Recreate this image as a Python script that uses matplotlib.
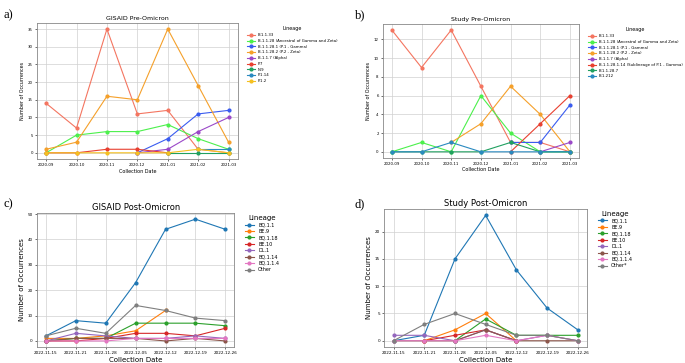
import numpy as np
import matplotlib.pyplot as plt

nan = np.nan

# ---- data ----
pre_dates = ['2020-09', '2020-10', '2020-11', '2020-12', '2021-01', '2021-02', '2021-03']
post_dates = ['2022-11-15', '2022-11-21', '2022-11-28', '2022-12-05', '2022-12-12', '2022-12-19', '2022-12-26']

# a) GISAID pre-Omicron
gisaid_pre_names = ['B.1.1.33', 'B.1.1.28 (Ancestral of Gamma and Zeta)', 'B.1.1.28.1 (P.1 - Gamma)',
                    'B.1.1.28.2 (P.2 - Zeta)', 'B.1.1.7 (Alpha)', 'P.7', 'N.9', 'P.1.14', 'P.1.2']
gisaid_pre_vals = [
    [14, 7, 35, 11, 12, 1, 0],
    [0, 5, 6, 6, 8, 4, 1],
    [nan, nan, nan, 0, 4, 11, 12],
    [1, 3, 16, 15, 35, 19, 3],
    [nan, nan, nan, 0, 1, 6, 10],
    [0, 0, 1, 1, 0, nan, nan],
    [nan, nan, nan, nan, 0, 0, 0],
    [nan, nan, nan, nan, nan, 1, 1],
    [0, 0, 0, 0, 0, 1, 0],
]
gisaid_pre_colors = ['#f47560', '#4cf04c', '#3a5cf0', '#f5a02a', '#9a48c8', '#e84030', '#20a060', '#2a8ac0', '#f5c020']

# b) Study pre-Omicron
study_pre_names = ['B.1.1.33', 'B.1.1.28 (Ancestral of Gamma and Zeta)', 'B.1.1.28.1 (P.1 - Gamma)',
                   'B.1.1.28.2 (P.2 - Zeta)', 'B.1.1.7 (Alpha)',
                   'B.1.1.28.1.14 (Sublineage of P.1 - Gamma)', 'B.1.1.28.7', 'B.1.212']
study_pre_vals = [
    [13, 9, 13, 7, 1, 1, 0],
    [0, 1, 0, 6, 2, 0, 0],
    [nan, nan, nan, nan, 1, 1, 5],
    [nan, nan, 1, 3, 7, 4, 0],
    [nan, nan, nan, nan, nan, 0, 1],
    [nan, nan, nan, nan, 0, 3, 6],
    [0, 0, 0, 0, 1, 0, 0],
    [0, 0, 1, 0, 0, 0, 0],
]
study_pre_colors = ['#f47560', '#4cf04c', '#3a5cf0', '#f5a02a', '#9a48c8', '#e84030', '#20a060', '#2a8ac0']

# c) GISAID post-Omicron
gisaid_post_names = ['BQ.1.1', 'BE.9', 'BQ.1.18', 'BE.10', 'DL.1', 'BQ.1.14', 'BQ.1.1.4', 'Other']
gisaid_post_vals = [
    [2, 8, 7, 23, 44, 48, 44],
    [1, 1, 2, 4, 12, nan, nan],
    [0, 1, 1, 7, 7, 7, 6],
    [0, 0, 1, 3, 3, 2, 5],
    [0, 3, 2, 1, 1, 2, 1],
    [0, 1, 1, 1, 0, 1, 0],
    [0, 0, 0, 1, 1, 1, 1],
    [2, 5, 3, 14, 12, 9, 8],
]

# d) Study post-Omicron
study_post_names = ['BQ.1.1', 'BE.9', 'BQ.1.18', 'BE.10', 'DL.1', 'BQ.1.14', 'BQ.1.1.4', 'Other*']
study_post_vals = [
    [0, 1, 15, 23, 13, 6, 2],
    [nan, 0, 2, 5, 0, nan, nan],
    [nan, nan, 0, 4, 1, 1, 1],
    [nan, 0, 1, 2, 0, nan, nan],
    [1, 1, 0, 2, 0, 1, 0],
    [0, 0, 0, 2, 0, 0, 0],
    [0, 0, 0, 1, 0, 1, 0],
    [0, 3, 5, 3, 1, 1, 0],
]
post_colors = ['tab:blue', 'tab:orange', 'tab:green', 'tab:red', 'tab:purple', 'tab:brown', 'tab:pink', 'tab:gray']


def draw(ax, dates, names, vals, colors, title, yticks, fs):
    x = np.arange(len(dates))
    for name, v, c in zip(names, vals, colors):
        ax.plot(x, v, marker='o', color=c, label=name, lw=0.8, ms=fs['ms'])
    ax.set_xticks(x)
    ax.set_xticklabels(dates, fontsize=fs['tick'])
    ax.set_yticks(yticks)
    ax.tick_params(axis='y', labelsize=fs['tick'])
    ax.tick_params(length=1.5, width=0.4, pad=1.5)
    ax.grid(True, color='#d0d0d0', lw=0.5)
    for s in ax.spines.values():
        s.set_color('#888888')
        s.set_linewidth(0.6)
    ax.set_title(title, fontsize=fs['title'], pad=2)
    ax.set_xlabel('Collection Date', fontsize=fs['label'], labelpad=1)
    ax.set_ylabel('Number of Occurrences', fontsize=fs['label'], labelpad=2)
    leg = ax.legend(title='Lineage', loc='upper left', bbox_to_anchor=fs['anchor'],
                    frameon=False, fontsize=fs['leg'], title_fontsize=fs['legtitle'],
                    handlelength=2.0, labelspacing=fs['spacing'])
    return leg


fig = plt.figure(figsize=(6.85, 3.63), dpi=100)

small = dict(ms=2, tick=2.8, label=3.5, title=4.5, leg=2.8, legtitle=3.5, anchor=(1.03, 1.0), spacing=0.45)
big = dict(ms=2, tick=3.0, label=5, title=6, leg=3.5, legtitle=5, anchor=(1.03, 1.02), spacing=0.3)

ax_a = fig.add_axes([0.054, 0.562, 0.293, 0.375])
draw(ax_a, pre_dates, gisaid_pre_names, gisaid_pre_vals, gisaid_pre_colors,
     'GISAID Pre-Omicron', range(0, 36, 5), small)

ax_b = fig.add_axes([0.559, 0.565, 0.286, 0.369])
draw(ax_b, pre_dates, study_pre_names, study_pre_vals, study_pre_colors,
     'Study Pre-Omicron', range(0, 13, 2), small)

ax_c = fig.add_axes([0.054, 0.044, 0.288, 0.369])
draw(ax_c, post_dates, gisaid_post_names, gisaid_post_vals, post_colors,
     'GISAID Post-Omicron', range(0, 51, 10), big)

ax_d = fig.add_axes([0.561, 0.044, 0.296, 0.380])
draw(ax_d, post_dates, study_post_names, study_post_vals, post_colors,
     'Study Post-Omicron', range(0, 21, 5), big)

for lab, x, y in [('a)', 0.005, 0.975), ('b)', 0.518, 0.975), ('c)', 0.005, 0.455), ('d)', 0.518, 0.455)]:
    fig.text(x, y, lab, family='Liberation Serif', fontsize=9, va='top', ha='left')

fig.savefig('out.png', dpi=100)
